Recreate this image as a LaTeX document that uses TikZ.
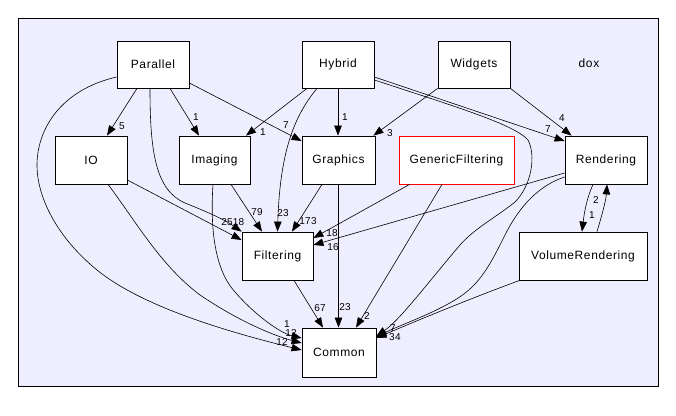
\documentclass[tikz,border=0pt]{standalone}
\usepackage{fontspec}
\setmainfont{Liberation Sans}
\newfontfamily\nodefont[LetterSpace=5]{Liberation Sans}
\newfontfamily\lblfont[LetterSpace=3]{Liberation Sans}
\usetikzlibrary{arrows.meta}
\definecolor{lav}{RGB}{238,238,255}
\begin{document}
\begin{tikzpicture}[x=1pt,y=-1pt,
  box/.style={draw=black,fill=white,line width=0.8pt,inner sep=0pt,minimum width=#1,minimum height=48pt,font=\nodefont\fontsize{12pt}{13pt}\selectfont},
  redbox/.style={box=#1,draw=red},
  e/.style={draw=black,line width=0.6pt,-{Triangle[length=10pt,width=7.5pt]}},
  lbl/.style={font=\lblfont\fontsize{10pt}{11pt}\selectfont,inner sep=0pt}]
\useasboundingbox (0,0) rectangle (676,415);
\fill[white] (0,0) rectangle (676,415);
\draw[fill=lav,line width=0.8pt] (18,18) rectangle (658,386);
\node[font=\nodefont\fontsize{12pt}{13pt}\selectfont] (doxlbl) at (589,63) {dox};
% nodes
\node[box=72pt,minimum height=47pt] (par) at (153,64.5) {Parallel};
\node[box=72pt,minimum height=47pt] (hyb) at (338,64.5) {Hybrid};
\node[box=72pt,minimum height=47pt] (wid) at (474,64.5) {Widgets};
\node[box=72pt] (io) at (91,160) {IO};
\node[box=71pt] (img) at (214.5,160) {Imaging};
\node[box=73pt] (gra) at (338.5,160) {Graphics};
\node[redbox=115pt] (gf) at (456.5,160) {GenericFiltering};
\node[box=82pt] (ren) at (606,160) {Rendering};
\node[box=71pt] (fil) at (277.5,256) {Filtering};
\node[box=74pt,minimum height=49pt] (com) at (339,352.5) {Common};
\node[box=128pt] (vr) at (583,256) {VolumeRendering};
% edges
\draw[e] ([xshift=-16pt]par.south) -- ([xshift=16pt]io.north) node[lbl,at={(122,126)}] {5};
\draw[e] ([xshift=17pt]par.south) -- ([xshift=-15.5pt]img.north) node[lbl,at={(196,117)}] {1};
\draw[e] ([yshift=-18.5pt]par.east) -- ([yshift=19pt]gra.west) node[lbl,at={(286,125)}] {7};
\draw[e] ([xshift=-3pt]par.south) .. controls (150,150) and (155,190) .. (185,203) .. controls (210,213) and (225,220) .. (fil.north west) node[lbl,at={(238.5,222)}] {18};
\draw[e] ([yshift=-12.5pt]par.west) .. controls (60,90) and (37,130) .. (37,165) .. controls (37,200) and (60,240) .. (97,270) .. controls (140,305) and (220,330) .. ([yshift=2.5pt]com.west) node[lbl,at={(282,342)}] {12};
\draw[e] ([yshift=-20pt]io.east) -- ([yshift=16pt]fil.west) node[lbl,at={(227,222)}] {25};
\draw[e] ([xshift=17pt]io.south) .. controls (135,220) and (160,265) .. (200,295) .. controls (240,322) and (275,336) .. ([yshift=9.5pt]com.west) node[lbl,at={(291,333)}] {12};
\draw[e] ([xshift=-1.5pt]img.south) .. controls (210,230) and (215,270) .. (235,292) .. controls (255,315) and (280,333) .. ([yshift=14.5pt]com.west) node[lbl,at={(287,324)}] {1};
\draw[e] ([xshift=16.5pt]img.south) -- ([xshift=-15.5pt]fil.north) node[lbl,at={(257,212)}] {79};
\draw[e] ([xshift=-31pt]hyb.south) -- ([xshift=31.5pt]img.north) node[lbl,at={(263,132)}] {1};
\draw[e] (hyb.south) -- (hyb.south |- gra.north) node[lbl,at={(345,117)}] {1};
\draw[e] ([xshift=-21pt]hyb.south) .. controls (295,115) and (280,150) .. (fil.north) node[lbl,at={(283,213)}] {23};
\draw[e] ([yshift=-12.5pt]hyb.east) -- ([yshift=19pt]ren.west) node[lbl,at={(548,129)}] {7};
\draw[e] ([yshift=-15.5pt]hyb.east) .. controls (460,108) and (515,125) .. (528,140) .. controls (536,155) and (532,185) .. (515,202) .. controls (495,218) and (475,228) .. (460,245) .. controls (430,280) and (400,320) .. ([yshift=16.5pt]com.east) node[lbl,at={(393,328)}] {7};
\draw[e] (wid.south west) -- ([xshift=-2pt]gra.north east) node[lbl,at={(390,133)}] {3};
\draw[e] (wid.south east) -- ([xshift=7pt]ren.north west) node[lbl,at={(562,118)}] {4};
\draw[e] ([xshift=-16.5pt]gra.south) -- ([xshift=14.5pt]fil.north) node[lbl,at={(308,221)}] {173};
\draw[e] (gra.south) -- (gra.south |- com.north) node[lbl,at={(345,307)}] {23};
\draw[e] ([xshift=11pt]gf.south west) -- ([yshift=18pt]fil.east) node[lbl,at={(332,233)}] {18};
\draw[e] ([xshift=-14.5pt]gf.south) -- ([xshift=17pt]com.north) node[lbl,at={(367,316)}] {2};
\draw[e] ([yshift=-13pt]ren.west) -- ([yshift=11pt]fil.east) node[lbl,at={(333,247)}] {16};
\draw[e] ([yshift=-17pt]ren.west) .. controls (540,185) and (520,205) .. (505,235) .. controls (490,265) and (480,285) .. (455,300) .. controls (430,315) and (400,325) .. ([yshift=15.5pt]com.east) node[lbl,at={(392,337)}] {3};
\draw[e] ([xshift=-13pt]ren.south) .. controls (586,200) and (584,215) .. ([xshift=-1pt]vr.north) node[lbl,at={(592,215)}] {1};
\draw[e] ([xshift=14pt]vr.north) .. controls (602,215) and (606,200) .. ([xshift=1pt]ren.south) node[lbl,at={(596,200)}] {2};
\draw[e] ([xshift=1pt]vr.south west) .. controls (480,295) and (430,315) .. ([yshift=14.5pt]com.east) node[lbl,at={(398,337)}] {4};
\draw[e] ([xshift=16.5pt]fil.south) -- ([xshift=-16pt]com.north) node[lbl,at={(320,308)}] {67};
\end{tikzpicture}
\end{document}
